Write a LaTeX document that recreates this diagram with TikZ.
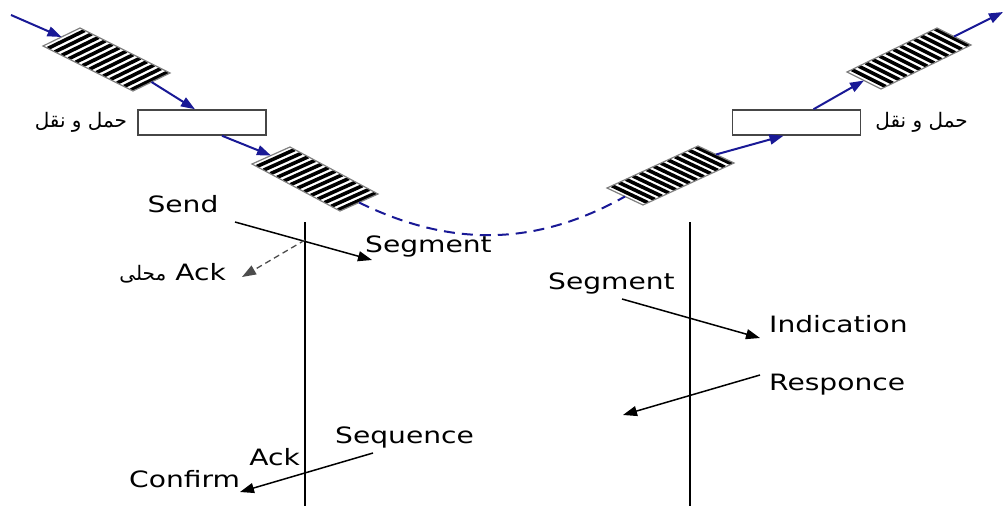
\documentclass[tikz,border=0pt]{standalone}
\usepackage{fontspec}
\usetikzlibrary{calc,positioning,arrows.meta}
\newfontfamily\lblfont[FakeStretch=1.25]{DejaVu Sans}
\newfontfamily\arabicfont[Script=Arabic]{DejaVu Sans}
\TeXXeTstate=1
\definecolor{pathblue}{RGB}{25,25,150}
\definecolor{boxgray}{RGB}{70,70,70}

\begin{document}
\begin{tikzpicture}[x=1pt, y=-1pt,
  lbl/.style={font=\lblfont\fontsize{22.5}{26}\selectfont, inner sep=0pt},
  arablbl/.style={font=\arabicfont\fontsize{20}{24}\selectfont, inner sep=0pt},
  layerbox/.style={draw=boxgray, line width=1.5pt, fill=white, minimum width=128pt, minimum height=25pt, inner sep=0pt},
  flow/.style={pathblue, line width=2pt, -{Triangle[length=14pt, width=10pt]}},
  prim/.style={black, line width=1.5pt, -{Triangle[length=14pt, width=10pt]}}]
  \useasboundingbox (0,0) rectangle (1003,506);

  \foreach \ax/\ay/\ux/\uy/\vx/\vy/\nm in {43/46/90/45/37/-18/pk1, 252/164/88/47/38/-17/pk2,
      607/188/91/-42/36/17/pk3, 847/72/90/-44/34/17/pk4}{
    \coordinate (\nm-a) at (\ax,\ay);
    \coordinate (\nm-b) at ($(\nm-a)+(\ux,\uy)$);
    \coordinate (\nm-c) at ($(\nm-b)+(\vx,\vy)$);
    \coordinate (\nm-d) at ($(\nm-a)+(\vx,\vy)$);
    \fill[white] (\nm-a) -- (\nm-b) -- (\nm-c) -- (\nm-d) -- cycle;
    \begin{scope}
      \clip (\nm-a) -- (\nm-b) -- (\nm-c) -- (\nm-d) -- cycle;
      \foreach \i [evaluate=\i as \t using (\i-0.3)/13] in {1,...,13}
        \draw[line width=3.6pt] ($(\nm-a)!\t!(\nm-b)$) -- ++(\vx,\vy);
    \end{scope}
    \draw[gray, line width=1.2pt] (\nm-a) -- (\nm-b) -- (\nm-c) -- (\nm-d) -- cycle;
    \coordinate (\nm-in) at ($(\nm-a)!0.5!(\nm-d)$);
    \coordinate (\nm-out) at ($(\nm-b)!0.5!(\nm-c)$);
  }

  \node[layerbox] (tl) at (202,122.5) {};
  \node[layerbox] (tr) at (796.5,122.5) {};
  \node[arablbl, left=10pt of tl] (tlname) {\beginR حمل و نقل\endR};
  \node[arablbl, right=14pt of tr] (trname) {\beginR حمل و نقل\endR};

  \coordinate (src) at (11,15);
  \coordinate (dst) at (1003,12);
  \draw[flow] (src) -- (pk1-in);
  \draw[flow] (pk1-out) -- ($(tl.north)+(-7,0)$);
  \draw[flow] ($(tl.south)+(20,0)$) -- (pk2-in);
  \draw[pathblue, line width=2pt, dash pattern=on 11pt off 7pt]
    (pk2-out) .. controls (450,247) and (535,247) .. (pk3-in);
  \draw[flow] (pk3-out) -- ($(tr.south)+(-13,0)$);
  \draw[flow] ($(tr.north)+(17,0)$) -- (pk4-in);
  \draw[flow] (pk4-out) -- (dst);

  \coordinate (sndtop) at (305,222);
  \coordinate (sndbot) at (305,506);
  \coordinate (rcvtop) at (690,222);
  \coordinate (rcvbot) at (690,506);
  \draw[line width=2.8pt] (sndtop) -- (sndbot);
  \draw[line width=2.8pt] (rcvtop) -- (rcvbot);

  \node[lbl, anchor=base] (send) at (183,212) {Send};
  \node[lbl, anchor=base west] (sega) at (365,252) {Segment};
  \node[lbl, anchor=base east] (lack) at (226,280)
    {{\arabicfont\fontsize{20}{24}\selectfont\beginR محلی\endR} Ack};
  \coordinate (senda) at (235,222);
  \coordinate (sendb) at (372,260);
  \draw[prim] (senda) -- (sendb);
  \coordinate (lacka) at (305,240);
  \coordinate (lackb) at (242,277);
  \draw[gray!60!black, line width=1.3pt, dash pattern=on 6pt off 4pt,
    -{Triangle[length=14pt, width=10pt]}] (lacka) -- (lackb);

  \node[lbl, anchor=base west] (segb) at (548,289) {Segment};
  \node[lbl, anchor=base west] (ind) at (769,332) {Indication};
  \node[lbl, anchor=base west] (resp) at (769,390) {Responce};
  \coordinate (inda) at (622,299);
  \coordinate (indb) at (760,338);
  \draw[prim] (inda) -- (indb);
  \coordinate (respa) at (760,375);
  \coordinate (respb) at (623,415);
  \draw[prim] (respa) -- (respb);

  \node[lbl, anchor=base west] (seq) at (335,443) {Sequence};
  \node[lbl, anchor=base east] (back) at (300,465) {Ack};
  \node[lbl, anchor=base west] (conf) at (129,487) {Confirm};
  \coordinate (seqa) at (373,453);
  \coordinate (seqb) at (240,492);
  \draw[prim] (seqa) -- (seqb);
\end{tikzpicture}
\end{document}
